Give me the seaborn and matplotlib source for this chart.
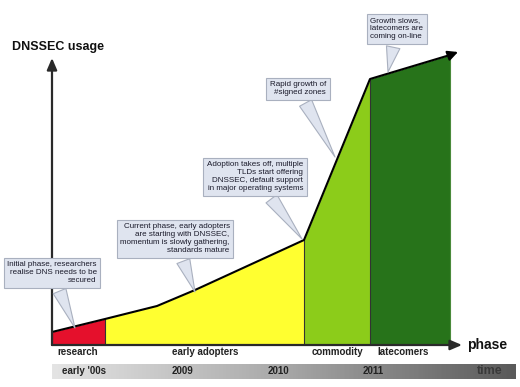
import numpy as np
import matplotlib
matplotlib.use('Agg')
import matplotlib.pyplot as plt
from matplotlib.colors import LinearSegmentedColormap
import seaborn as sns

# usage curve (arbitrary units)
curve_x = [0, 53, 105, 143, 252, 318, 398]
curve_y = [13, 26, 39, 55, 105, 266, 290]
arrow_end = (406, 293)

phases = ['research', 'early adopters', 'commodity', 'latecomers']
phase_bounds = [0, 53, 252, 318, 398]
phase_colors = ['#e5102c', '#ffff30', '#8ccc1a', '#27731a']
phase_label_x = [26, 153, 285, 351]

time_labels = ["early '00s", '2009', '2010', '2011', 'time']
time_label_x = [32, 131, 226, 321, 438]

notes = [
    'Initial phase, researchers\nrealise DNS needs to be\nsecured',
    'Current phase, early adopters\nare starting with DNSSEC,\nmomentum is slowly gathering,\nstandards mature',
    'Adoption takes off, multiple\nTLDs start offering\nDNSSEC, default support\nin major operating systems',
    'Rapid growth of\n#signed zones',
    'Growth slows,\nlatecomers are\ncoming on-line',
]
note_xy = [(0, 72), (123, 106), (203, 168), (246, 256), (345, 316)]
note_tip = [(23, 17), (143, 53), (250, 106), (283, 188), (336, 273)]
note_align = ['right', 'right', 'right', 'right', 'left']

sns.set_style('white')
plt.rcParams['font.family'] = ['Liberation Sans', 'DejaVu Sans']

fig = plt.figure(figsize=(5.2, 3.87), dpi=100)
ax = fig.add_axes([0, 0, 1, 1])

# phase areas
xs = np.array(curve_x, dtype=float)
ys = np.array(curve_y, dtype=float)
for i in range(4):
    a, b = phase_bounds[i], phase_bounds[i + 1]
    seg_x = xs[(xs >= a) & (xs <= b)]
    seg_y = ys[(xs >= a) & (xs <= b)]
    ax.fill_between(seg_x, 0, seg_y, color=phase_colors[i], lw=0)
    ax.plot([a, a], [0, np.interp(a, xs, ys)], color='#333333', lw=0.8)
ax.plot([398, 398], [0, 290], color='#4a8a3a', lw=0.8)

sns.lineplot(x=curve_x, y=curve_y, sort=False, color='black', lw=1.5, ax=ax)
ax.annotate('', xy=arrow_end, xytext=(curve_x[-1], curve_y[-1]),
            arrowprops=dict(arrowstyle='-|>,head_length=0.6,head_width=0.3',
                            color='black', lw=1.5, shrinkA=0, shrinkB=0))

# axes arrows
ax.annotate('', xy=(0, 287), xytext=(0, 0),
            arrowprops=dict(arrowstyle='-|>,head_length=0.7,head_width=0.3',
                            color='#2a2a2a', lw=1.6, shrinkA=0, shrinkB=0))
ax.annotate('', xy=(410, 0), xytext=(0, 0),
            arrowprops=dict(arrowstyle='-|>,head_length=0.7,head_width=0.3',
                            color='#2a2a2a', lw=1.6, shrinkA=0, shrinkB=0))
ax.text(-40, 298, 'DNSSEC usage', fontsize=9, fontweight='bold',
        ha='left', va='center', color='#111111')
ax.text(415, 0, 'phase', fontsize=10, fontweight='bold',
        ha='left', va='center', color='#111111')

for lab, x in zip(phases, phase_label_x):
    ax.text(x, -7, lab, fontsize=7, fontweight='bold', ha='center',
            va='center', color='#222222')

# time bar
grey = LinearSegmentedColormap.from_list('g', ['#e4e4e4', '#a8a8a8', '#5a5a5a'])
ax.imshow(np.linspace(0, 1, 200)[None, :], cmap=grey, aspect='auto',
          extent=[0, 464, -34, -19], zorder=1)
for lab, x in zip(time_labels, time_label_x):
    ax.text(x, -26.5, lab, fontsize=7 if lab != 'time' else 9,
            fontweight='bold', ha='center', va='center',
            color='#222222' if lab != 'time' else '#3a3a3a', zorder=2)

# callouts
for txt, xy, tip, al in zip(notes, note_xy, note_tip, note_align):
    ax.annotate(txt, xy=tip, xytext=xy, fontsize=5.8, ha='center', va='center',
                multialignment=al, color='#1a1a2a', zorder=5,
                bbox=dict(boxstyle='square,pad=0.45', fc='#dfe4ef', ec='#a9b0bf', lw=0.8),
                arrowprops=dict(arrowstyle='wedge,tail_width=1.7', fc='#dfe4ef',
                                ec='#a9b0bf', lw=0.8, shrinkB=0))

ax.set_xlim(-52, 468)
ax.set_ylim(-42, 345)
ax.axis('off')
fig.savefig('out.png', dpi=100)
